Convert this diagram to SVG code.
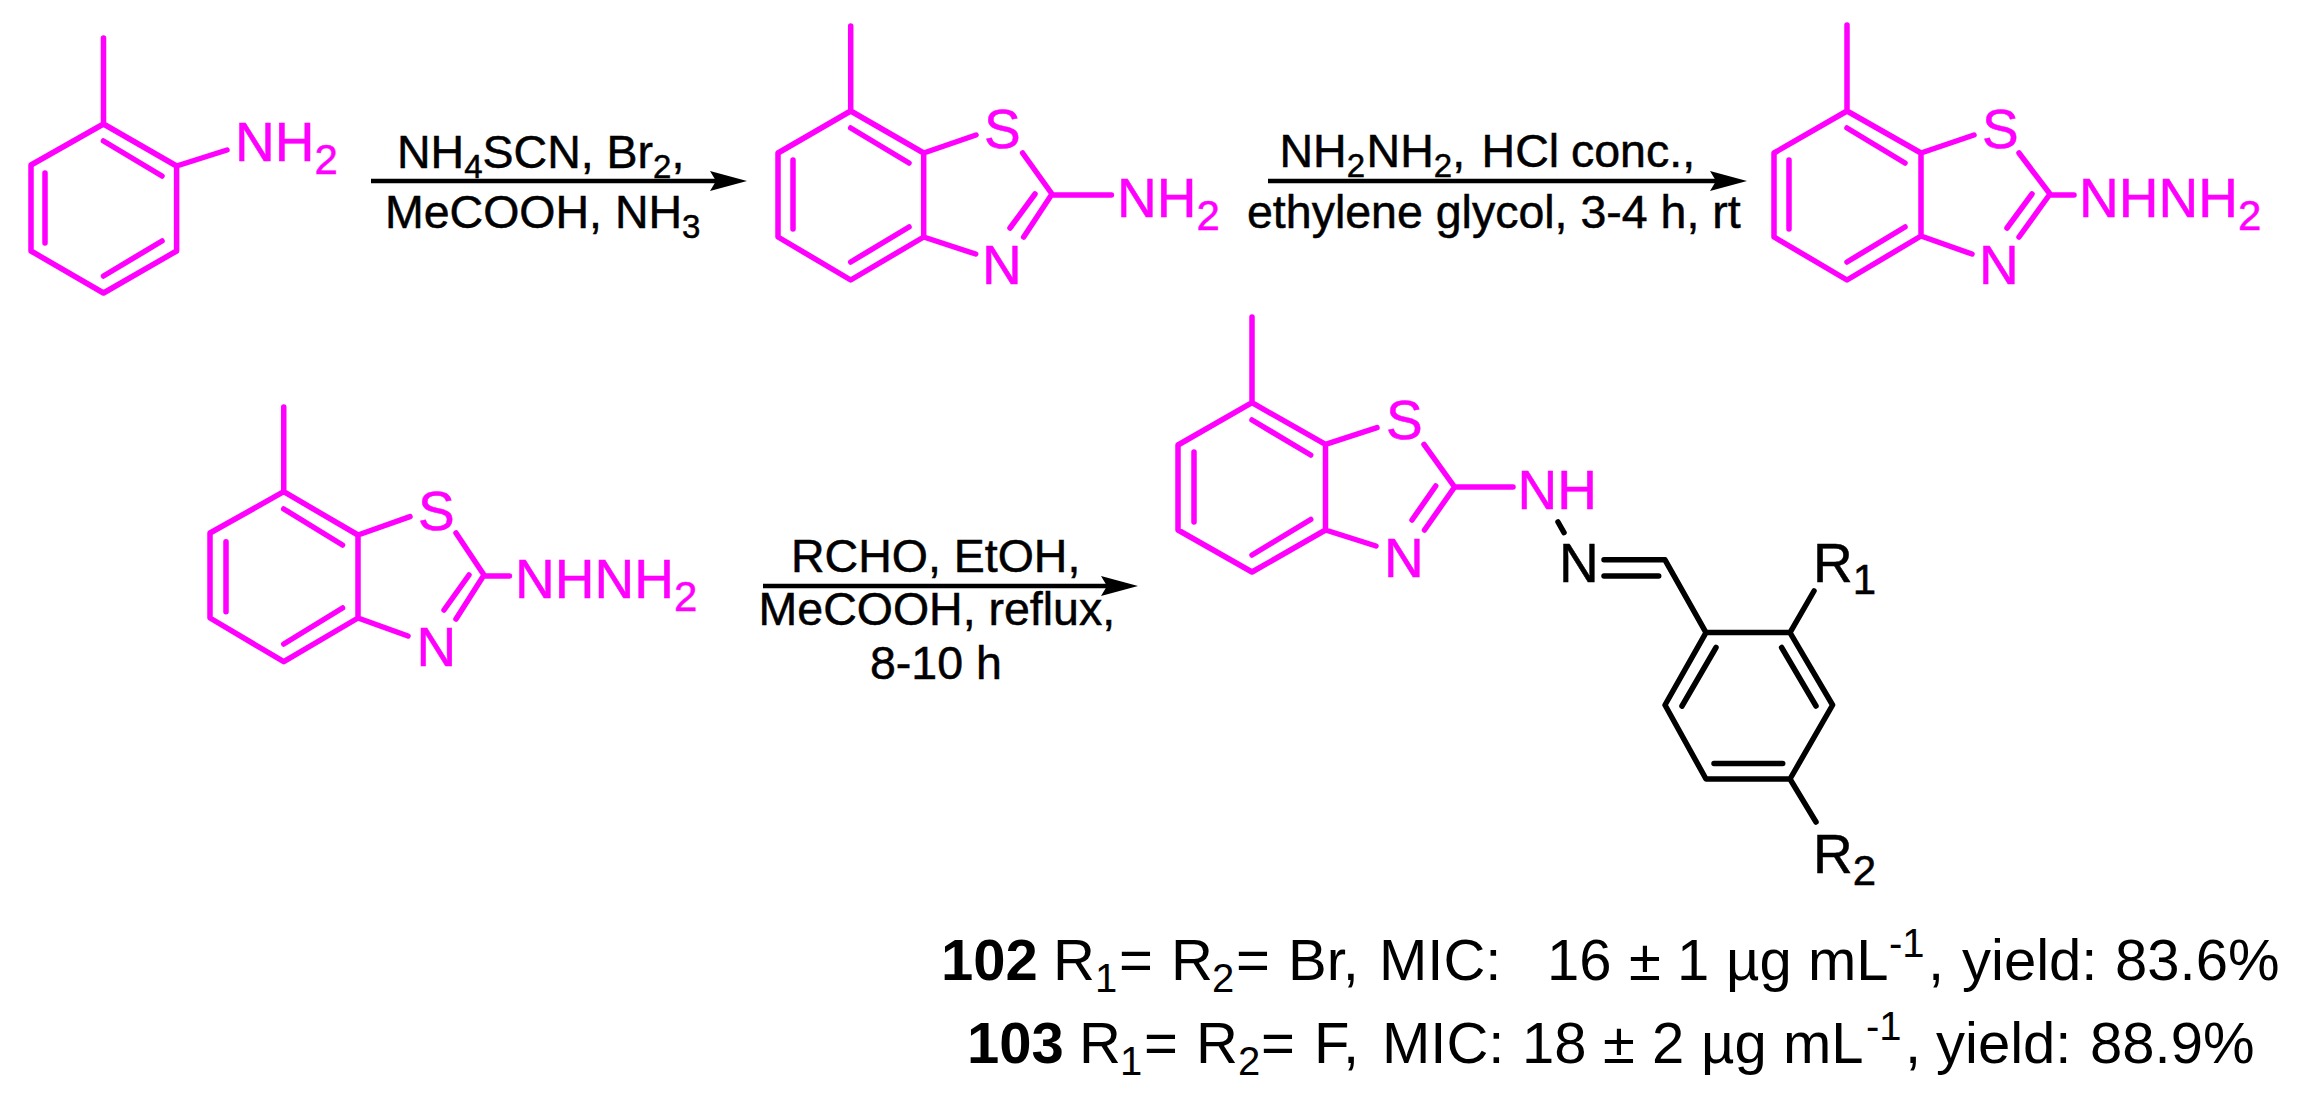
<svg xmlns="http://www.w3.org/2000/svg" width="2308" height="1102" viewBox="0 0 2308 1102">
<style>
text{font-family:"Liberation Sans",Arial,sans-serif;white-space:pre}
.mb{fill:none;stroke:#ff00ff;stroke-width:5.5;stroke-linecap:round;stroke-linejoin:round}
.kb{fill:none;stroke:#000;stroke-width:5.5;stroke-linecap:round;stroke-linejoin:round}
.m{fill:#ff00ff;stroke:#ff00ff;stroke-width:.5;font-size:55px}
.k{fill:#000;stroke:#000;stroke-width:.5;font-size:55px}
.r{fill:#000;stroke:#000;stroke-width:.5;font-size:46.5px}
.b{fill:#000;font-size:58px}
.bold{font-weight:bold}
.sub{font-size:42px}
.rs{font-size:33px}
.bs{font-size:40px}
.arrow{stroke:#000;stroke-width:4.5;fill:none;marker-end:url(#head)}
</style>
<defs>
<marker id="head" markerUnits="userSpaceOnUse" markerWidth="40" markerHeight="24" refX="6" refY="10" orient="auto"><path d="M0 0L37 10L0 20L6 10Z" fill="#000"/></marker>
</defs>
<rect width="2308" height="1102" fill="#fff"/>
<g id="connectors">
<line class="arrow" x1="371" y1="181" x2="716" y2="181"/>
<line class="arrow" x1="1268" y1="181" x2="1716" y2="181"/>
<line class="arrow" x1="763" y1="586" x2="1107" y2="586"/>
</g>
<g id="reagents-1">
<text class="r" x="397" y="168">NH<tspan class="rs" dy="10">4</tspan><tspan dy="-10">SCN, Br</tspan><tspan class="rs" dy="10">2</tspan><tspan dy="-10">,</tspan></text>
<text class="r" x="385" y="228">MeCOOH, NH<tspan class="rs" dy="10">3</tspan></text>
</g>
<g id="reagents-2">
<text class="r" x="1279.5" y="167">NH<tspan class="rs" dy="10">2</tspan><tspan x="1366.6" dy="-10">NH</tspan><tspan class="rs" dy="10">2</tspan><tspan dy="-10">,</tspan><tspan x="1481.6">HCl</tspan><tspan x="1571">conc.,</tspan></text>
<text class="r" x="1247" y="228">ethylene glycol, 3-4 h, rt</text>
</g>
<g id="reagents-3">
<text class="r" x="791" y="572">RCHO, EtOH,</text>
<text class="r" x="758.6" y="625">MeCOOH, reflux,</text>
<text class="r" x="870" y="679">8-10 h</text>
</g>
<g id="node-aniline">
<path class="mb" d="M103.5 38V124L176.6 166V251L103.5 293L31 251V165L103.5 124M103.5 141L162 176M45 173V243M162 241L103.5 276M176.6 166L227 150"/>
<text class="m" x="235" y="161">NH<tspan class="sub" dy="13">2</tspan></text>
</g>
<g id="node-aminobenzothiazole">
<path class="mb" d="M850.7 26V111L923.7 153V237L850.7 280L778 237V153L850.7 111M850.7 128L909 163M793 160V229M909 227L850.7 262M923.7 153L976 135M1022.6 153L1052 194L1023.7 237M1035 194L1010 228M923.7 237L975.7 254M1052 195H1111.4"/>
<text class="m" x="984" y="148">S</text>
<text class="m" x="982" y="284">N</text>
<text class="m" x="1117" y="217">NH<tspan class="sub" dy="13">2</tspan></text>
</g>
<g id="node-hydrazinyl-1">
<path class="mb" d="M1847 25V111L1921 153V236L1847 280L1774 237V153L1847 111M1847 128L1905 163M1789 160V229M1905 227L1847 262M1921 153L1974 135M2019 153L2050 194L2019 237M2032 194L2007 228M1921 236L1972 254M2050 195H2074"/>
<text class="m" x="1982" y="148">S</text>
<text class="m" x="1979" y="284">N</text>
<text class="m" x="2079" y="217">NHNH<tspan class="sub" dy="13">2</tspan></text>
</g>
<g id="node-hydrazinyl-2">
<path class="mb" d="M283.75 407V491.7L358 535V618L283.75 661.7L210 618V533L283.75 491.7M283.75 509L342.5 545M226 541.7V611.7M342.5 608L283.75 644M358 535L410 516.7M456 533L484 575L456 619M469 575L444 610M358 618L408 636M484 576H509.4"/>
<text class="m" x="418" y="530">S</text>
<text class="m" x="416.5" y="666">N</text>
<text class="m" x="515" y="598">NHNH<tspan class="sub" dy="13">2</tspan></text>
</g>
<g id="node-product">
<path class="mb" d="M1252 317V402.7L1325.5 444.4V530L1252 572L1178 530V445L1252 402.7M1252 420L1310.7 455M1194 452V522M1310.7 519.5L1252 555M1325.5 444.4L1377 427.6M1424 444.4L1454.6 487L1424.5 530M1435.7 486L1412 520M1325.5 530L1376 546M1454.6 487H1513"/>
<path class="kb" d="M1558 522L1564 532.6M1604 559.8H1665L1706 632.6H1790L1832.6 705L1790 779H1706L1665 705L1706 632.6M1604 576H1658.7M1716 647.5L1682 706M1781.6 647.5L1816 706M1714 763.6H1782.7M1790 632.6L1814 591M1790 779L1816 822"/>
<text class="m" x="1386" y="438.7">S</text>
<text class="m" x="1384" y="576.6">N</text>
<text class="m" x="1517.5" y="508.8">NH</text>
<text class="k" x="1559" y="582.4">N</text>
<text class="k" x="1813" y="582.4">R<tspan class="sub" dy="12">1</tspan></text>
<text class="k" x="1813" y="872.8">R<tspan class="sub" dy="12">2</tspan></text>
</g>
<g id="caption">
<text class="b" y="980"><tspan class="bold" x="941">102</tspan><tspan x="1053">R</tspan><tspan class="bs" x="1095" dy="12">1</tspan><tspan x="1119" dy="-12">=</tspan><tspan x="1171">R</tspan><tspan class="bs" x="1212" dy="12">2</tspan><tspan x="1236" dy="-12">=</tspan><tspan x="1288">Br,</tspan><tspan x="1379">MIC:</tspan><tspan x="1547">16</tspan><tspan x="1629">±</tspan><tspan x="1677">1</tspan><tspan x="1726">µg</tspan><tspan x="1808">mL</tspan><tspan class="bs" x="1889" dy="-23">-1</tspan><tspan x="1928" dy="23">,</tspan><tspan x="1962">yield:</tspan><tspan x="2115">83.6%</tspan></text>
<text class="b" y="1062.5"><tspan class="bold" x="967">103</tspan><tspan x="1079">R</tspan><tspan class="bs" x="1120" dy="12">1</tspan><tspan x="1144" dy="-12">=</tspan><tspan x="1196">R</tspan><tspan class="bs" x="1238" dy="12">2</tspan><tspan x="1261" dy="-12">=</tspan><tspan x="1314">F,</tspan><tspan x="1382">MIC:</tspan><tspan x="1522">18</tspan><tspan x="1603">±</tspan><tspan x="1652">2</tspan><tspan x="1701">µg</tspan><tspan x="1783">mL</tspan><tspan class="bs" x="1866" dy="-23">-1</tspan><tspan x="1905" dy="23">,</tspan><tspan x="1936">yield:</tspan><tspan x="2090">88.9%</tspan></text>
</g>
</svg>
